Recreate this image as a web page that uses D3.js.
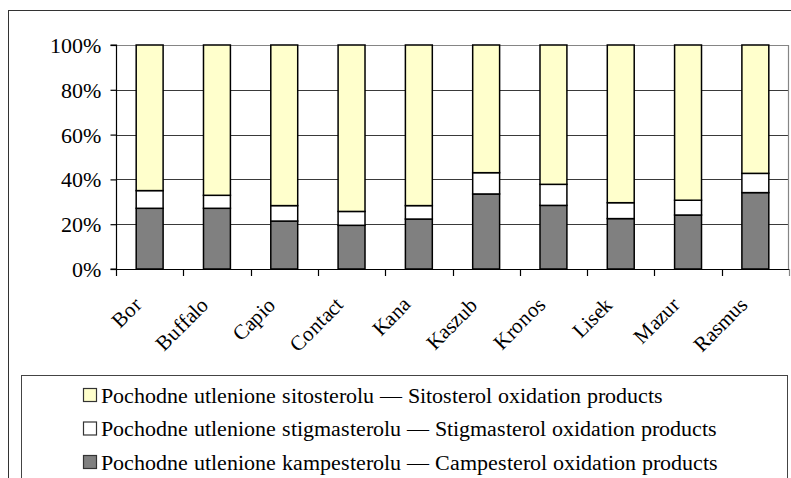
<!DOCTYPE html>
<html>
<head>
<meta charset="utf-8">
<script src="https://cdn.jsdelivr.net/npm/d3@7/dist/d3.min.js"></script>
<style>
  @font-face { font-family: "ChartSerif"; src: local("Liberation Serif"), local("LiberationSerif"), local("Times New Roman"); }
  body { margin: 0; }
  #chart text.lbl { font-family: "ChartSerif", "Liberation Serif", "Times New Roman", serif !important; }
</style>
</head>
<body>
<svg id="chart" width="791" height="478" style="font-family: 'Liberation Serif', serif"></svg>
<script>
// Cultivars
const categories = ["Bor", "Buffalo", "Capio", "Contact", "Kana", "Kaszub", "Kronos", "Lisek", "Mazur", "Rasmus"];

// Share of each oxidation-product group (%)
const campesterol = [27.1, 27.1, 21.4, 19.5, 22.3, 33.5, 28.4, 22.5, 24.1, 34.1];
const stigmasterol = [7.9, 5.8, 6.9, 6.2, 6.0, 9.5, 9.4, 7.1, 6.6, 8.6];
const sitosterol = [65.0, 67.1, 71.7, 74.3, 71.7, 57.0, 62.2, 70.4, 69.3, 57.3];

const yTicks = [0, 0.2, 0.4, 0.6, 0.8, 1.0];

const seriesNames = [
  "Pochodne utlenione sitosterolu \u2014 Sitosterol oxidation products",
  "Pochodne utlenione stigmasterolu \u2014 Stigmasterol oxidation products",
  "Pochodne utlenione kampesterolu \u2014 Campesterol oxidation products"
];
const seriesColors = ["#FFFFCC", "#FFFFFF", "#808080"];

const svg = d3.select("#chart");

// Outer chart frame (runs past the right and bottom edges)
svg.append("rect")
  .attr("x", 8.5).attr("y", 10.5)
  .attr("width", 800).attr("height", 500)
  .attr("fill", "none").attr("stroke", "#333").attr("stroke-width", 1);

const plot = { left: 116, right: 789, top: 45, bottom: 269 };

const x = d3.scaleBand().domain(categories).range([plot.left, plot.right]).padding(0);
const y = d3.scaleLinear().domain([0, 1]).range([plot.bottom, plot.top]);

// Normalised stack: campesterol at the bottom, then stigmasterol, then sitosterol
const rows = categories.map((c, i) => {
  const total = campesterol[i] + stigmasterol[i] + sitosterol[i];
  return { cat: c, camp: campesterol[i] / total, stig: stigmasterol[i] / total, sito: sitosterol[i] / total };
});
const stack = d3.stack().keys(["camp", "stig", "sito"]);
const layers = stack(rows);
const layerColor = { camp: seriesColors[2], stig: seriesColors[1], sito: seriesColors[0] };

// Gridlines
svg.append("g")
  .selectAll("line")
  .data(yTicks.filter(t => t > 0 && t < 1))
  .join("line")
  .attr("x1", plot.left).attr("x2", plot.right)
  .attr("y1", d => Math.round(y(d)) + 0.5).attr("y2", d => Math.round(y(d)) + 0.5)
  .attr("stroke", "#3a3a3a").attr("stroke-width", 1);

// Plot area border (top and right)
svg.append("path")
  .attr("d", `M${plot.left},${plot.top + 0.5}H${plot.right - 0.5}V${plot.bottom}`)
  .attr("fill", "none").attr("stroke", "#858585").attr("stroke-width", 1.2);

// Bars
const barW = x.bandwidth() * 0.4;
svg.append("g")
  .selectAll("g")
  .data(layers)
  .join("g")
  .attr("fill", d => layerColor[d.key])
  .selectAll("rect")
  .data(d => d)
  .join("rect")
  .attr("x", d => x(d.data.cat) + (x.bandwidth() - barW) / 2)
  .attr("width", barW)
  .attr("y", d => y(d[1]))
  .attr("height", d => y(d[0]) - y(d[1]))
  .attr("stroke", "#000").attr("stroke-width", 1.5);

// Y axis
const yAxis = d3.axisLeft(y).tickValues(yTicks).tickFormat(d3.format(".0%")).tickSize(6).tickPadding(10);
const gy = svg.append("g").attr("transform", `translate(${plot.left + 0.5},0)`).call(yAxis)
  .attr("font-family", null).attr("font-size", null);
gy.select(".domain").attr("stroke", "#000").attr("stroke-width", 1.2).attr("d", `M-6,${plot.top}H0V${plot.bottom}H-6`);
gy.selectAll(".tick line").attr("stroke", "#000").attr("stroke-width", 1.2);
gy.selectAll(".tick text")
  .attr("class", "lbl")
  .attr("x", -16).attr("dy", "0.34em")
  .attr("font-size", 22)
  .attr("fill", "#000");

// X axis with ticks at category boundaries
const gx = svg.append("g");
gx.append("line")
  .attr("x1", plot.left).attr("x2", plot.right)
  .attr("y1", plot.bottom + 0.5).attr("y2", plot.bottom + 0.5)
  .attr("stroke", "#000").attr("stroke-width", 1.2);
const boundaries = categories.map(c => x(c)).concat([x(categories[categories.length - 1]) + x.bandwidth()]);
gx.selectAll("line.tick")
  .data(boundaries)
  .join("line")
  .attr("class", "tick")
  .attr("x1", d => Math.round(d) + 0.5).attr("x2", d => Math.round(d) + 0.5)
  .attr("y1", plot.bottom).attr("y2", plot.bottom + 7)
  .attr("stroke", (d, i) => i === boundaries.length - 1 ? "#858585" : "#000").attr("stroke-width", 1.2);

gx.selectAll("text")
  .data(categories)
  .join("text")
  .attr("class", "lbl")
  .attr("text-anchor", "end")
  .attr("transform", d => `translate(${x(d) + x.bandwidth() / 2 - 7},${plot.bottom + 37}) rotate(-45)`)
  .attr("font-size", 21)
  .attr("fill", "#000")
  .text(d => d);

// Legend
const legend = svg.append("g");
legend.append("rect")
  .attr("x", 21.5).attr("y", 375.5).attr("width", 766).attr("height", 120)
  .attr("fill", "#fff").attr("stroke", "#444").attr("stroke-width", 1);

const legendRowY = [395, 428.5, 462];
const items = legend.selectAll("g.item")
  .data(seriesNames.map((n, i) => ({ name: n, color: seriesColors[i], cy: legendRowY[i] })))
  .join("g").attr("class", "item");
items.append("rect")
  .attr("x", 83.5).attr("y", d => d.cy - 6.5)
  .attr("width", 13).attr("height", 13)
  .attr("fill", d => d.color).attr("stroke", "#333").attr("stroke-width", 1.2);
items.append("text")
  .attr("class", "lbl")
  .attr("x", 101).attr("y", d => d.cy + 7.5)
  .attr("font-size", 22)
  .attr("fill", "#000")
  .text(d => d.name);
</script>
</body>
</html>
